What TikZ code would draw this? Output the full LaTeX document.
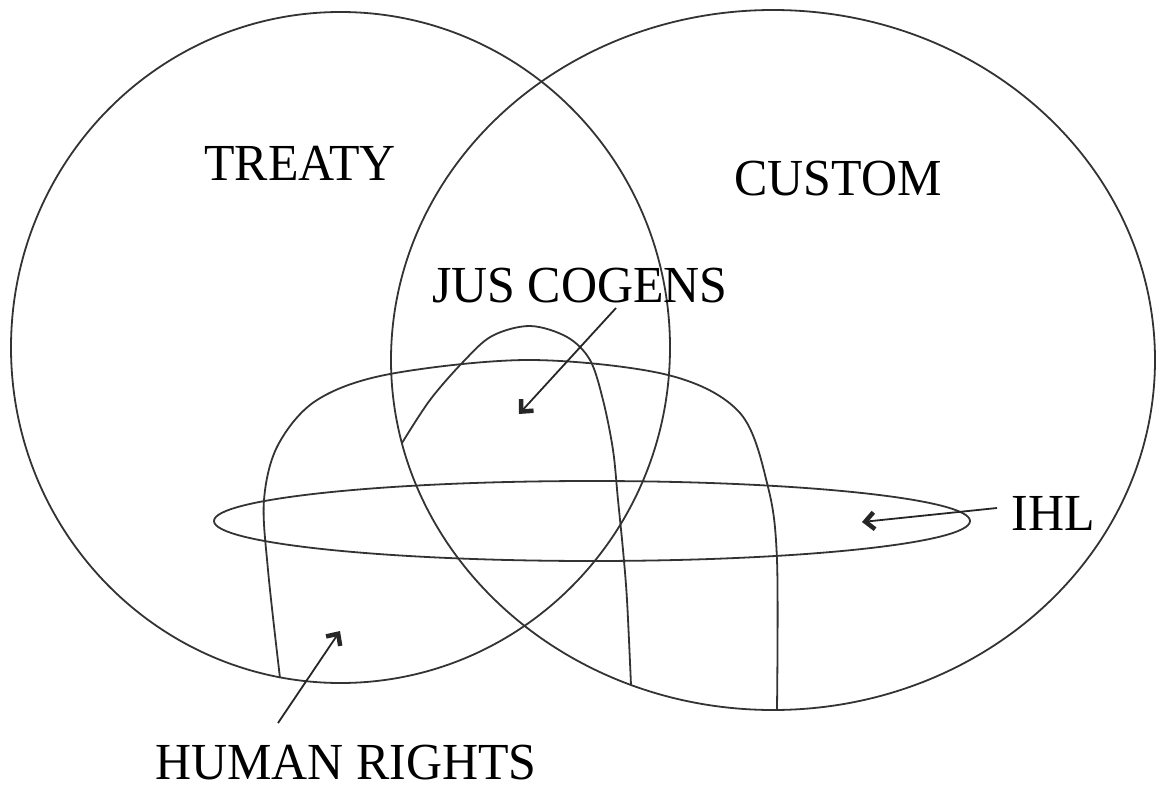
\documentclass[tikz,border=0pt]{standalone}
\usepackage{fontspec}
\setmainfont[FakeStretch=0.96]{Liberation Serif}
\usetikzlibrary{arrows.meta}
\begin{document}
\begin{tikzpicture}[x=1pt,y=-1pt,
  outline/.style={draw=black!80, line width=1.8pt},
  lbl/.style={font=\fontsize{52}{60}\selectfont, anchor=base, inner sep=0pt},
  pointer/.style={draw=black!85, line width=1.8pt, -{Straight Barb[length=9pt,width=17pt,line width=4.5pt]}}]
\useasboundingbox (0,0) rectangle (1157,789);
% TREATY and CUSTOM circles
\draw[outline] (340.5,347.5) ellipse [x radius=329.5pt, y radius=335.5pt];
\draw[outline] (773,360) ellipse [x radius=382pt, y radius=350pt];
% IHL ellipse
\draw[outline] (592,521) ellipse [x radius=378pt, y radius=40pt];
% Human rights region
\draw[outline] plot[smooth, tension=0.55] coordinates {(280,678) (268,570) (264,500) (278,445) (317,400) (390,374) (530,360) (668,375) (740,413) (768,487) (777,560) (777,709)};
% Jus cogens arch
\draw[outline] plot[smooth, tension=0.55] coordinates {(402,443) (430,400) (463,362) (492,336) (530,326) (567,337) (590,360) (603,400) (613,450) (618,500) (623,550) (627,600) (631,685)};
% labels
\node[lbl] (treaty) at (300,181) {TREATY};
\node[lbl] (custom) at (838,195) {CUSTOM};
\node[lbl] (jus) at (580,302) {JUS COGENS};
\node[lbl] (ihl) at (1053,530) {IHL};
\node[lbl, text depth=0pt] (hr) at (346,779) {HUMAN RIGHTS};
% pointers
\coordinate (jus-tail) at (616,308);
\coordinate (jus-tip) at (519,414);
\coordinate (ihl-tail) at (997,508);
\coordinate (ihl-tip) at (862,522);
\coordinate (hr-tail) at (278,723);
\coordinate (hr-tip) at (340,631);
\draw[pointer] (jus-tail) -- (jus-tip);
\draw[pointer] (ihl-tail) -- (ihl-tip);
\draw[pointer] (hr-tail) -- (hr-tip);
\end{tikzpicture}
\end{document}
